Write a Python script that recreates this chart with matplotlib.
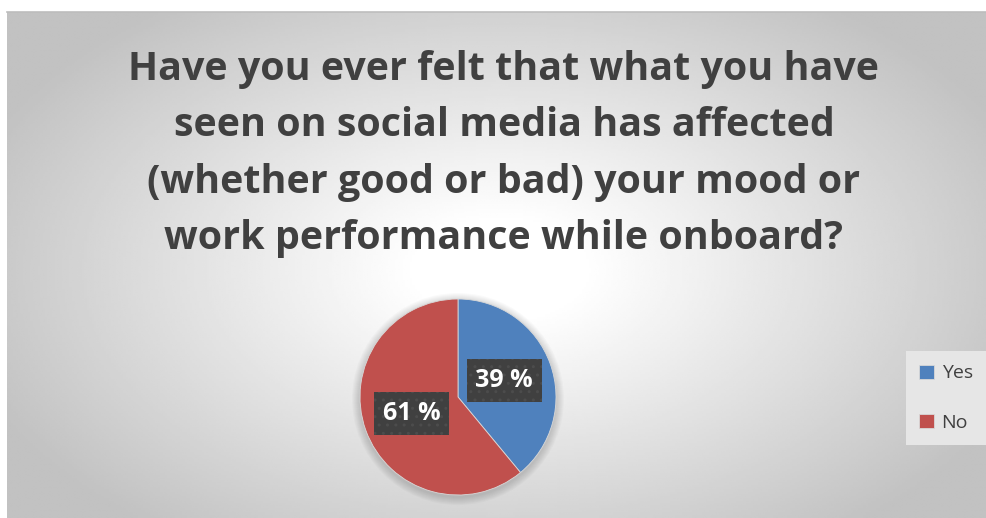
import numpy as np
import matplotlib.pyplot as plt
from matplotlib.patches import Circle

# survey answers
labels = ['Yes', 'No']
shares = [39, 61]
colors = ['#4f81bd', '#c0504d']
title = ('Have you ever felt that what you have\n'
         'seen on social media has affected\n'
         '(whether good or bad) your mood or\n'
         'work performance while onboard?')

W, H = 987, 518
fig = plt.figure(figsize=(W / 100, H / 100), dpi=100)
fig.patch.set_facecolor('white')

# chart area background: radial grey gradient
bg = fig.add_axes([0, 0, 1, 1], zorder=-5)
bg.set_xlim(0, W)
bg.set_ylim(H, 0)
bg.axis('off')
x0, y0, x1, y1 = 7, 12, W, H
xs = np.linspace(x0, x1, 400)
ys = np.linspace(y0, y1, 220)
gx, gy = np.meshgrid(xs, ys)
r = np.sqrt(((gx - 500) / 560) ** 2 + ((gy - 270) / 330) ** 2)
val = np.clip(1.0 - 0.24 * np.clip(r - 0.15, 0, None) / 0.85, 0.76, 1.0)
bg.imshow(val, cmap='gray', vmin=0, vmax=1, extent=[x0, x1, y1, y0],
          aspect='auto', interpolation='bilinear')
bg.plot([x0, x1], [y0, y0], color='#bdbdbd', lw=1.2)

fig.text(504 / W, 1 - 154 / H, title, ha='center', va='center',
         fontsize=28.4, fontweight='bold', color='#404040',
         family='Open Sans', linespacing=1.58)

# pie
cx, cy, rad = 458, 397, 98
# soft shadow around the pie
for k in range(1, 9):
    bg.add_patch(Circle((cx, cy + 2), rad + k, facecolor='black',
                        edgecolor='none', alpha=0.018, zorder=1))

ax = fig.add_axes([(cx - rad) / W, (H - cy - rad) / H, 2 * rad / W, 2 * rad / H])
wedges, texts, autotexts = ax.pie(
    shares, colors=colors, startangle=90, counterclock=False,
    autopct='%.0f %%', pctdistance=0.5,
    wedgeprops=dict(edgecolor='#d8d8d8', linewidth=0.6),
    textprops=dict(color='white', fontsize=18, fontweight='bold', family='Open Sans'))
for w in wedges:
    w.set_clip_on(False)
for t in autotexts:
    t.set_bbox(dict(boxstyle='square,pad=0.35', facecolor='#404040',
                    edgecolor='#4c4c4c', hatch='..', linewidth=0))
ax.set_xlim(-1, 1)
ax.set_ylim(-1, 1)
ax.axis('off')

leg = fig.legend(wedges, labels, loc='center',
                 bbox_to_anchor=(946 / W, 1 - 398 / H),
                 frameon=True, fancybox=False,
                 handlelength=0.75, handleheight=0.75, handletextpad=0.4,
                 labelspacing=1.6, borderpad=0.7, borderaxespad=0,
                 prop=dict(family='Open Sans', size=14))
leg.get_frame().set_facecolor('#e6e6e6')
leg.get_frame().set_edgecolor('none')
leg.get_frame().set_alpha(1)
for t in leg.get_texts():
    t.set_color('#404040')

fig.savefig('out.png', dpi=100)
